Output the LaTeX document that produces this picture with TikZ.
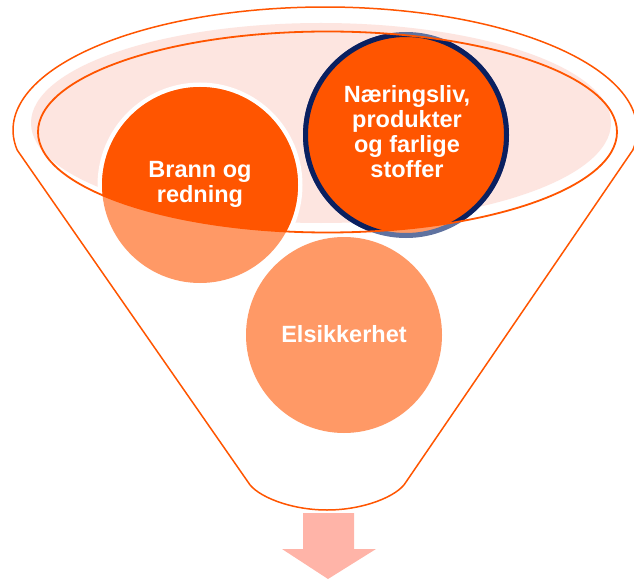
\documentclass[tikz,border=0pt]{standalone}
\usepackage{fontspec}
\setmainfont{Liberation Sans}
\definecolor{darkor}{HTML}{FF5500}
\definecolor{lightor}{HTML}{FF9966}
\definecolor{pinkfill}{HTML}{FDE5E0}
\definecolor{navy}{HTML}{0A2060}
\definecolor{halo}{HTML}{5F72A0}
\definecolor{arrowcol}{HTML}{FFB4A8}
\tikzset{
  funnel/.style={draw=darkor, line width=1.5pt, fill=white, line join=round},
  rimline/.style={draw=darkor, line width=1.8pt},
  label/.style={text=white, font=\fontsize{23.5}{25}\selectfont\bfseries, align=center, inner sep=0pt},
}
\begin{document}
\begin{tikzpicture}[x=1pt, y=-1pt]
\useasboundingbox (0,0) rectangle (634,580);
% funnel outline
\path (325,130) ++(170.6:312 and 123) coordinate (TL);
\path (325,130) ++(9.4:312 and 123) coordinate (TR);
\coordinate (BL) at (248,482);
\coordinate (BR) at (406,482);
\coordinate (BM) at (327,510);
\draw[funnel] (TL) -- (BL) .. controls (256,496) and (290,510) .. (BM)
  .. controls (364,510) and (398,496) .. (BR) -- (TR)
  arc[start angle=9.4, end angle=-189.4, x radius=312, y radius=123] -- cycle;
% pink rim fill
\fill[pinkfill] (321,123) ellipse[x radius=290, y radius=100];
% circles, light version (outside the rim)
\fill[white] (200,185) circle[radius=102.5];
\fill[lightor] (200,185) circle[radius=98];
\fill[lightor] (344,335) circle[radius=98];
\draw[halo, line width=5pt, fill=lightor] (406,135) circle[radius=100.5];
% circles, full colour inside the rim
\begin{scope}
  \clip (327.5,132) ellipse[x radius=289.5, y radius=100.5];
  \fill[darkor] (200,185) circle[radius=98];
  \draw[navy, line width=5pt, fill=darkor] (406,135) circle[radius=100.5];
\end{scope}
% inner rim outline
\draw[rimline] (327.5,132) ellipse[x radius=289.5, y radius=100.5];
% texts
\node[label] (brann) at (200,184.5) {Brann og\\redning};
\node[label] (naer) at (407,132) {Næringsliv,\\produkter\\og farlige\\stoffer};
\node[label] (elsik) at (344,334.5) {Elsikkerhet};
% arrow
\fill[arrowcol] (303,513) -- (354,513) -- (354,549) -- (376,549) -- (328,579) -- (282,549) -- (303,549) -- cycle;
\end{tikzpicture}
\end{document}
